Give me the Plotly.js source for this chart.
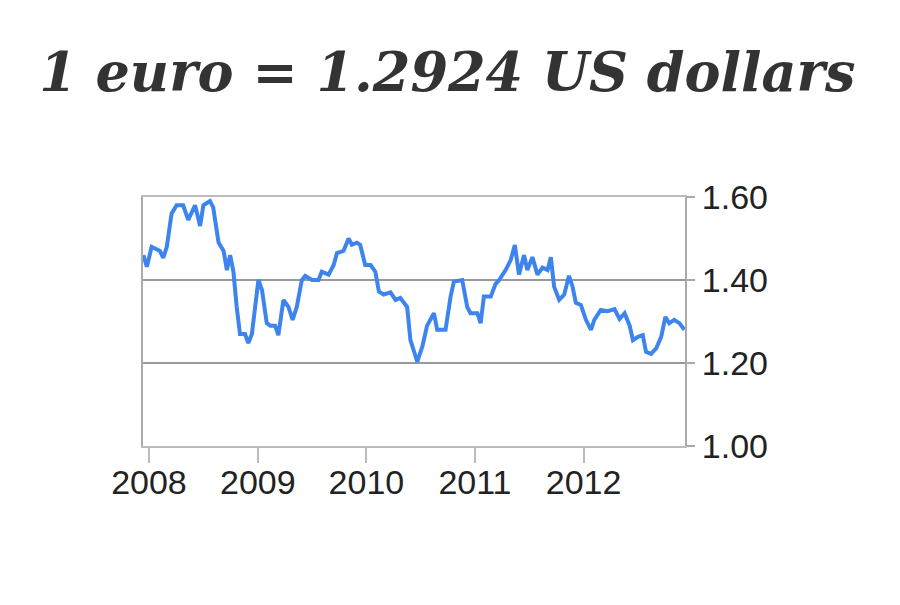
<!DOCTYPE html>
<html>
<head>
<meta charset="utf-8">
<script src="https://cdn.plot.ly/plotly-3.0.1.min.js"></script>
<style>
  html, body { margin: 0; padding: 0; background: #fff; }
  #chart { width: 900px; height: 605px; }
</style>
</head>
<body>
<div id="chart"></div>
<script>
// EUR -> USD, weekly-ish readings
const dates = [
  '2007-12-13', '2007-12-25', '2008-01-10', '2008-02-07', '2008-02-18', '2008-03-01',
  '2008-03-17', '2008-04-03', '2008-04-25', '2008-05-12', '2008-06-04', '2008-06-21',
  '2008-07-02', '2008-07-24', '2008-08-04', '2008-08-22', '2008-09-08', '2008-09-19',
  '2008-09-30', '2008-10-11', '2008-10-22', '2008-11-02', '2008-11-19', '2008-11-30',
  '2008-12-12', '2008-12-23', '2009-01-03', '2009-01-15', '2009-01-31', '2009-02-12',
  '2009-02-28', '2009-03-11', '2009-03-28', '2009-04-14', '2009-04-28', '2009-05-12',
  '2009-05-29', '2009-06-09', '2009-07-02', '2009-07-24', '2009-08-04', '2009-08-27',
  '2009-09-13', '2009-09-24', '2009-10-16', '2009-11-02', '2009-11-13', '2009-11-30',
  '2009-12-11', '2009-12-28', '2010-01-15', '2010-01-31', '2010-02-12', '2010-02-28',
  '2010-03-23', '2010-04-09', '2010-04-25', '2010-05-18', '2010-05-29', '2010-06-21',
  '2010-07-08', '2010-07-24', '2010-08-16', '2010-08-27', '2010-09-24', '2010-10-11',
  '2010-10-22', '2010-11-19', '2010-12-06', '2010-12-17', '2011-01-09', '2011-01-20',
  '2011-01-31', '2011-02-23', '2011-03-11', '2011-03-23', '2011-04-14', '2011-05-01',
  '2011-05-15', '2011-05-29', '2011-06-15', '2011-06-26', '2011-07-13', '2011-07-30',
  '2011-08-16', '2011-09-02', '2011-09-13', '2011-09-24', '2011-10-11', '2011-10-28',
  '2011-11-13', '2011-11-25', '2011-12-06', '2011-12-23', '2012-01-09', '2012-01-26',
  '2012-02-06', '2012-02-28', '2012-03-22', '2012-04-14', '2012-05-01', '2012-05-18',
  '2012-06-04', '2012-06-15', '2012-07-02', '2012-07-18', '2012-07-29', '2012-08-15',
  '2012-09-01', '2012-09-18', '2012-10-02', '2012-10-15', '2012-11-01', '2012-11-18',
  '2012-12-05'
];
const rates = [
  1.460, 1.432, 1.480, 1.470, 1.453, 1.480,
  1.560, 1.580, 1.580, 1.545, 1.580, 1.530,
  1.580, 1.590, 1.575, 1.490, 1.470, 1.424,
  1.460, 1.420, 1.335, 1.270, 1.270, 1.248,
  1.270, 1.335, 1.400, 1.376, 1.296, 1.290,
  1.290, 1.267, 1.352, 1.335, 1.304, 1.335,
  1.400, 1.410, 1.400, 1.400, 1.420, 1.413,
  1.436, 1.465, 1.470, 1.500, 1.485, 1.490,
  1.485, 1.436, 1.436, 1.420, 1.372, 1.365,
  1.370, 1.352, 1.357, 1.335, 1.255, 1.203,
  1.240, 1.290, 1.320, 1.280, 1.280, 1.360,
  1.396, 1.400, 1.335, 1.320, 1.320, 1.296,
  1.360, 1.360, 1.390, 1.400, 1.424, 1.448,
  1.484, 1.413, 1.460, 1.424, 1.455, 1.413,
  1.430, 1.424, 1.455, 1.384, 1.352, 1.365,
  1.410, 1.384, 1.345, 1.340, 1.304, 1.280,
  1.304, 1.328, 1.325, 1.330, 1.306, 1.320,
  1.290, 1.255, 1.263, 1.267, 1.227, 1.222,
  1.235, 1.263, 1.311, 1.296, 1.304, 1.296,
  1.280
];
const yearTicks = ['2008-01-01', '2009-01-01', '2010-01-01', '2011-01-01', '2012-01-01'];
const yearLabels = ['2008', '2009', '2010', '2011', '2012'];
const rateTicks = [1.0, 1.2, 1.4, 1.6];
const rateLabels = ['1.00', '1.20', '1.40', '1.60'];
const titleText = '1 euro = 1.2924 US dollars';

const trace = {
  type: 'scatter',
  mode: 'lines',
  x: dates,
  y: rates,
  line: { color: '#3d84ee', width: 4 },
  hoverinfo: 'x+y'
};

const tickFont = { family: 'Liberation Sans, Arial, sans-serif', size: 34, color: '#222' };

const layout = {
  width: 900,
  height: 605,
  margin: { l: 143, r: 215, t: 197, b: 159 },
  paper_bgcolor: '#fff',
  plot_bgcolor: '#fff',
  showlegend: false,
  title: {
    text: '<b><i>' + titleText + '</i></b>',
    font: { family: 'DejaVu Serif, serif', size: 54, color: '#333' },
    x: 0.497,
    xanchor: 'center',
    y: 0.881,
    yref: 'container',
    yanchor: 'middle'
  },
  xaxis: {
    type: 'date',
    range: ['2007-12-12', '2012-12-07'],
    tickvals: yearTicks,
    ticktext: yearLabels,
    ticks: 'outside',
    ticklen: 15,
    tickwidth: 2,
    tickcolor: '#bbb',
    ticklabelstandoff: -10,
    showgrid: false,
    showline: true,
    mirror: true,
    linecolor: '#bbb',
    linewidth: 2,
    tickfont: tickFont,
    fixedrange: true
  },
  yaxis: {
    side: 'right',
    range: [1.0, 1.6],
    tickvals: rateTicks,
    ticktext: rateLabels,
    ticks: 'outside',
    ticklen: 8,
    tickwidth: 2,
    tickcolor: '#aaa',
    showgrid: true,
    gridcolor: '#999',
    gridwidth: 2,
    zeroline: false,
    showline: true,
    mirror: true,
    linecolor: '#aaa',
    linewidth: 2,
    tickfont: tickFont,
    fixedrange: true
  }
};

Plotly.newPlot('chart', [trace], layout, { displayModeBar: false, staticPlot: true });
</script>
</body>
</html>
